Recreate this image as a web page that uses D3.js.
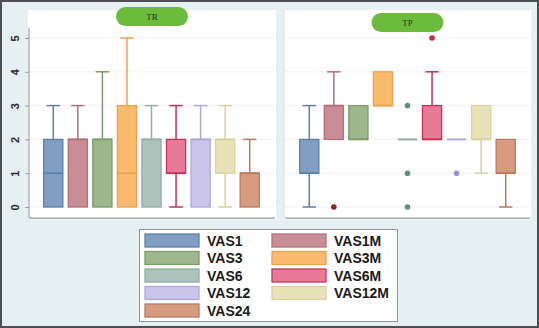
<!DOCTYPE html>
<html><head><meta charset="utf-8">
<script src="https://cdn.jsdelivr.net/npm/d3@7"></script>
<style>html,body{margin:0;padding:0;background:#fff}svg{display:block}</style>
</head><body>
<script>
const categories = ["VAS1","VAS1M","VAS3","VAS3M","VAS6","VAS6M","VAS12","VAS12M","VAS24"];
const panelNames = ["TR","TP"];
const yTicks = [0,1,2,3,4,5];
// TR five-number summaries
const trMin = [0,0,0,0,0,0,0,0,0];
const trQ1  = [0,0,0,0,0,1,0,1,0];
const trMed = [1,2,2,1,2,1,2,2,1];
const trQ3  = [2,2,2,3,2,2,2,2,1];
const trMax = [3,3,4,5,3,3,3,3,2];
const trOut = [[],[],[],[],[],[],[],[],[]];
// TP five-number summaries
const tpMin = [0,2,2,3,2,2,2,1,0];
const tpQ1  = [1,2,2,3,2,2,2,2,1];
const tpMed = [1,3,2,3,2,2,2,2,1];
const tpQ3  = [2,3,3,4,2,3,2,3,2];
const tpMax = [3,4,3,4,2,4,2,3,2];
const tpOut = [[],[0],[],[],[3,1,0],[5],[1],[],[]];

const fills   = ["#819fc2","#c98d96","#9fb78c","#f8bb6e","#adc3bb","#e97a97","#cbc5ec","#e8e2b8","#d59c80"];
const strokes = ["#5e80a8","#b3707a","#7d9a6a","#eda14f","#93aea6","#c3335a","#b1a9dd","#d9d19d","#ba7c5d"];
const dots    = ["#5e80a8","#8c1f2e","#7d9a6a","#eda14f","#5f8d82","#c8283e","#9b91d9","#d9d19d","#ba7c5d"];

const W = 539, H = 328;
const svg = d3.select("body").append("svg").attr("width", W).attr("height", H);
svg.append("rect").attr("x",1).attr("y",1).attr("width",W-2).attr("height",H-2)
  .attr("fill","#e6eff2").attr("stroke","#4d4f52").attr("stroke-width",2);

const y = d3.scaleLinear().domain([0,5]).range([207,38]);
const yLo = -0.33, yHi = 5.3;

const panels = [
  {name:"TR", x0:28, x1:276, bx0:41, bx1:262, pillY:7, min:trMin,q1:trQ1,med:trMed,q3:trQ3,max:trMax,out:trOut, axis:true},
  {name:"TP", x0:284, x1:531, bx0:297, bx1:518, pillY:13, min:tpMin,q1:tpQ1,med:tpMed,q3:tpQ3,max:tpMax,out:tpOut, axis:false}
];

panels.forEach(p => {
  const g = svg.append("g");
  g.append("rect").attr("x",p.x0).attr("y",10).attr("width",p.x1-p.x0).attr("height",y(yLo)-10+1).attr("fill","#fff");
  if (!p.axis) g.append("line").attr("x1",p.x0).attr("x2",p.x0).attr("y1",10).attr("y2",y(yLo)).attr("stroke","#dde8ee").attr("stroke-width",1.5);
  // gridlines
  g.selectAll(".grid").data(yTicks).join("line")
    .attr("x1",p.x0+1).attr("x2",p.x1-2).attr("y1",d=>y(d)).attr("y2",d=>y(d))
    .attr("stroke","#eef2f5").attr("stroke-width",1);
  const x = d3.scaleBand().domain(categories).range([p.bx0,p.bx1]).paddingInner(0.22).paddingOuter(0.11);
  const bw = x.bandwidth(), cw = bw*0.7;
  categories.forEach((c,i) => {
    const cx = x(c) + bw/2;
    const st = strokes[i];
    if (p.max[i] > p.q3[i]) {
      g.append("line").attr("x1",cx).attr("x2",cx).attr("y1",y(p.q3[i])).attr("y2",y(p.max[i])).attr("stroke",st).attr("stroke-width",1.5);
      g.append("line").attr("x1",cx-cw/2).attr("x2",cx+cw/2).attr("y1",y(p.max[i])).attr("y2",y(p.max[i])).attr("stroke",st).attr("stroke-width",1.5);
    }
    if (p.min[i] < p.q1[i]) {
      g.append("line").attr("x1",cx).attr("x2",cx).attr("y1",y(p.q1[i])).attr("y2",y(p.min[i])).attr("stroke",st).attr("stroke-width",1.5);
      g.append("line").attr("x1",cx-cw/2).attr("x2",cx+cw/2).attr("y1",y(p.min[i])).attr("y2",y(p.min[i])).attr("stroke",st).attr("stroke-width",1.5);
    }
    if (p.q3[i] > p.q1[i]) {
      g.append("rect").attr("x",x(c)).attr("y",y(p.q3[i])).attr("width",bw).attr("height",y(p.q1[i])-y(p.q3[i]))
        .attr("fill",fills[i]).attr("stroke",st).attr("stroke-width",1.3);
      g.append("line").attr("x1",x(c)).attr("x2",x(c)+bw).attr("y1",y(p.med[i])).attr("y2",y(p.med[i])).attr("stroke",st).attr("stroke-width",1.8);
    } else {
      g.append("line").attr("x1",x(c)).attr("x2",x(c)+bw).attr("y1",y(p.q1[i])).attr("y2",y(p.q1[i])).attr("stroke",st).attr("stroke-width",2);
    }
    p.out[i].forEach(v => {
      g.append("circle").attr("cx",cx).attr("cy",y(v)).attr("r",2.8).attr("fill",dots[i]);
    });
  });
  // bottom axis line
  g.append("line").attr("x1",p.x0+1).attr("x2",p.x1-1).attr("y1",y(yLo)).attr("y2",y(yLo)).attr("stroke","#9a9ea2").attr("stroke-width",1.2);
  if (p.axis) {
    g.append("line").attr("x1",p.x0+1).attr("x2",p.x0+1).attr("y1",y(yHi)).attr("y2",y(yLo)).attr("stroke","#9a9ea2").attr("stroke-width",1.2);
    const ax = g.append("g").attr("transform",`translate(${p.x0+1},0)`)
      .call(d3.axisLeft(y).tickValues(yTicks).tickSize(4).tickFormat(d3.format("d")));
    ax.select(".domain").remove();
    ax.selectAll("line").attr("stroke","#9a9ea2");
    ax.selectAll("text").attr("font-family","Liberation Sans, Arial, sans-serif").attr("font-size",11).attr("font-weight","bold")
      .attr("fill","#2a2a2a").attr("transform","rotate(-90)").attr("x",0).attr("y",-10).attr("dy",0).attr("text-anchor","middle");
  }
  // pill header
  const cxp = (p.x0+p.x1)/2;
  g.append("rect").attr("x",cxp-36).attr("y",p.pillY).attr("width",72).attr("height",19).attr("rx",9.5)
    .attr("fill","#6dbb3c");
  g.append("text").attr("x",cxp).attr("y",p.pillY+13).attr("text-anchor","middle")
    .attr("font-family","Liberation Serif, DejaVu Serif, serif").attr("font-size",9).attr("fill","#24301f").text(p.name);
});

// legend
const lg = svg.append("g");
lg.append("rect").attr("x",139.5).attr("y",229.5).attr("width",258).attr("height",92).attr("fill","#fff").attr("stroke","#8f959a").attr("stroke-width",1);
categories.forEach((c,i) => {
  const col = i % 2, row = Math.floor(i/2);
  const sx = col ? 272 : 145, sy = 234 + row*17.5;
  lg.append("rect").attr("x",sx).attr("y",sy).attr("width",54).attr("height",13)
    .attr("fill",fills[i]).attr("stroke",strokes[i]).attr("stroke-width",1.3);
  lg.append("text").attr("x",sx+62).attr("y",sy+11.5).attr("font-family","Liberation Sans, Arial, sans-serif")
    .attr("font-size",14).attr("font-weight","bold").attr("fill","#1a1a1a").text(c);
});
</script>
</body></html>
